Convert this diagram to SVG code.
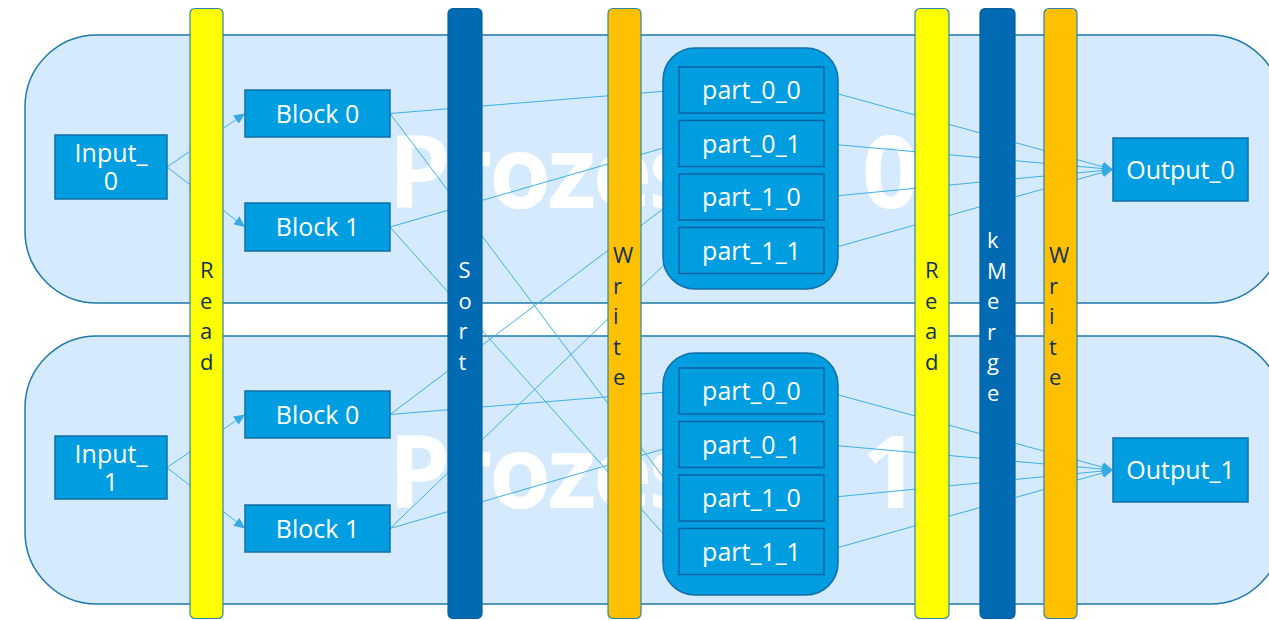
<svg xmlns="http://www.w3.org/2000/svg" width="1269" height="620" viewBox="0 0 1269 620">
<defs>
<marker id="arr" markerUnits="userSpaceOnUse" markerWidth="12" markerHeight="10" refX="11" refY="5" orient="auto">
<path d="M0,0 L11,5 L0,10 Z" fill="#35abe3"/>
</marker>
<style>
.proc{fill:#d5eafc;stroke:#1f79ad;stroke-width:1.5}
.wm{font-family:"Open Sans","Noto Sans",sans-serif;font-weight:bold;font-size:100px;fill:#ffffff;letter-spacing:-3.5px}
.node{fill:#009ee0;stroke:#136fa6;stroke-width:1.5}
.cont{fill:#009ee0;stroke:#136fa6;stroke-width:1.5}
.part{fill:#009ee0;stroke:#0b62a0;stroke-width:1.5}
.lbl{font-family:"Open Sans","Noto Sans",sans-serif;font-size:25px;fill:#ffffff;text-anchor:middle}
.conn{fill:none;stroke:#3db1e8;stroke-width:1}
.yel{fill:#ffff00;stroke:#2a86a8;stroke-width:1.2}
.ora{fill:#ffc000;stroke:#2a86a8;stroke-width:1.2}
.dbl{fill:#006ab2;stroke:#0d5f99;stroke-width:1.2}
.bt{font-family:"Open Sans","Noto Sans",sans-serif;font-size:22px;fill:#12305c}
.bw{font-family:"Open Sans","Noto Sans",sans-serif;font-size:22px;fill:#ffffff}
</style>
</defs>

<g id="process0">
<rect class="proc" x="25" y="35" width="1257" height="268" rx="72" ry="72"/>
<text class="wm" y="207.5"><tspan x="388">Prozess </tspan><tspan x="862">0</tspan></text>
</g>
<g id="process1">
<rect class="proc" x="25" y="336" width="1257" height="268" rx="72" ry="72"/>
<text class="wm" y="508"><tspan x="388">Prozess </tspan><tspan x="862">1</tspan></text>
</g>

<g id="connectors">
<line class="conn" x1="167" y1="167" x2="245" y2="113.5" marker-end="url(#arr)"/>
<line class="conn" x1="167" y1="167" x2="245" y2="227" marker-end="url(#arr)"/>
<line class="conn" x1="167" y1="467.5" x2="245" y2="414.5" marker-end="url(#arr)"/>
<line class="conn" x1="167" y1="467.5" x2="245" y2="528.5" marker-end="url(#arr)"/>

<line class="conn" x1="390" y1="113.5" x2="679" y2="90"/>
<line class="conn" x1="390" y1="113.5" x2="679" y2="498"/>
<line class="conn" x1="390" y1="227" x2="679" y2="143.5"/>
<line class="conn" x1="390" y1="227" x2="679" y2="551.5"/>
<line class="conn" x1="390" y1="414.5" x2="679" y2="391"/>
<line class="conn" x1="390" y1="414.5" x2="679" y2="197"/>
<line class="conn" x1="390" y1="528.5" x2="679" y2="444.5"/>
<line class="conn" x1="390" y1="528.5" x2="679" y2="250.5"/>

<line class="conn" x1="824" y1="90" x2="1113" y2="169.5" marker-end="url(#arr)"/>
<line class="conn" x1="824" y1="143.5" x2="1113" y2="169.5" marker-end="url(#arr)"/>
<line class="conn" x1="824" y1="197" x2="1113" y2="169.5" marker-end="url(#arr)"/>
<line class="conn" x1="824" y1="250.5" x2="1113" y2="169.5" marker-end="url(#arr)"/>
<line class="conn" x1="824" y1="391" x2="1113" y2="470" marker-end="url(#arr)"/>
<line class="conn" x1="824" y1="444.5" x2="1113" y2="470" marker-end="url(#arr)"/>
<line class="conn" x1="824" y1="498" x2="1113" y2="470" marker-end="url(#arr)"/>
<line class="conn" x1="824" y1="551.5" x2="1113" y2="470" marker-end="url(#arr)"/>
</g>

<g id="input0">
<rect class="node" x="55" y="135" width="112" height="64"/>
<text class="lbl" x="111" y="162">Input_</text>
<text class="lbl" x="111" y="190">0</text>
</g>
<g id="input1">
<rect class="node" x="55" y="436" width="112" height="63"/>
<text class="lbl" x="111" y="463">Input_</text>
<text class="lbl" x="111" y="491">1</text>
</g>

<g id="p0-block0">
<rect class="node" x="245" y="90" width="145" height="47"/>
<text class="lbl" x="317.5" y="122.5">Block 0</text>
</g>
<g id="p0-block1">
<rect class="node" x="245" y="203" width="145" height="48"/>
<text class="lbl" x="317.5" y="236">Block 1</text>
</g>
<g id="p1-block0">
<rect class="node" x="245" y="391" width="145" height="47"/>
<text class="lbl" x="317.5" y="423.5">Block 0</text>
</g>
<g id="p1-block1">
<rect class="node" x="245" y="505" width="145" height="47"/>
<text class="lbl" x="317.5" y="537.5">Block 1</text>
</g>

<g id="parts0">
<rect class="cont" x="663" y="48" width="175" height="241" rx="32" ry="32"/>
<g id="p0-part_0_0"><rect class="part" x="679" y="67" width="145" height="46"/><text class="lbl" x="751.5" y="99">part_0_0</text></g>
<g id="p0-part_0_1"><rect class="part" x="679" y="120.5" width="145" height="46"/><text class="lbl" x="751.5" y="152.5">part_0_1</text></g>
<g id="p0-part_1_0"><rect class="part" x="679" y="174" width="145" height="46"/><text class="lbl" x="751.5" y="206">part_1_0</text></g>
<g id="p0-part_1_1"><rect class="part" x="679" y="227.5" width="145" height="46"/><text class="lbl" x="751.5" y="259.5">part_1_1</text></g>
</g>
<g id="parts1">
<rect class="cont" x="663" y="353" width="175" height="242" rx="32" ry="32"/>
<g id="p1-part_0_0"><rect class="part" x="679" y="368" width="145" height="46"/><text class="lbl" x="751.5" y="400">part_0_0</text></g>
<g id="p1-part_0_1"><rect class="part" x="679" y="421.5" width="145" height="46"/><text class="lbl" x="751.5" y="453.5">part_0_1</text></g>
<g id="p1-part_1_0"><rect class="part" x="679" y="475" width="145" height="46"/><text class="lbl" x="751.5" y="507">part_1_0</text></g>
<g id="p1-part_1_1"><rect class="part" x="679" y="528.5" width="145" height="46"/><text class="lbl" x="751.5" y="560.5">part_1_1</text></g>
</g>

<g id="output0">
<rect class="node" x="1113" y="138" width="135" height="63"/>
<text class="lbl" x="1180.5" y="178.5">Output_0</text>
</g>
<g id="output1">
<rect class="node" x="1113" y="438" width="135" height="64"/>
<text class="lbl" x="1180.5" y="479">Output_1</text>
</g>

<g id="bar-read1">
<rect class="yel" x="190" y="8.5" width="33" height="610" rx="5" ry="5"/>
<text class="bt"><tspan x="200" y="278">R</tspan><tspan x="200" y="308.5">e</tspan><tspan x="200" y="339">a</tspan><tspan x="200" y="369.5">d</tspan></text>
</g>
<g id="bar-sort">
<rect class="dbl" x="448" y="8.5" width="34" height="610" rx="5" ry="5"/>
<text class="bw"><tspan x="458.5" y="278">S</tspan><tspan x="458.5" y="308.5">o</tspan><tspan x="458.5" y="339">r</tspan><tspan x="458.5" y="369.5">t</tspan></text>
</g>
<g id="bar-write1">
<rect class="ora" x="608" y="8.5" width="33" height="610" rx="5" ry="5"/>
<text class="bt"><tspan x="613" y="263">W</tspan><tspan x="613" y="293.5">r</tspan><tspan x="613" y="324">i</tspan><tspan x="613" y="354.5">t</tspan><tspan x="613" y="385">e</tspan></text>
</g>
<g id="bar-read2">
<rect class="yel" x="915" y="8.5" width="34" height="610" rx="5" ry="5"/>
<text class="bt"><tspan x="925" y="278">R</tspan><tspan x="925" y="308.5">e</tspan><tspan x="925" y="339">a</tspan><tspan x="925" y="369.5">d</tspan></text>
</g>
<g id="bar-kmerge">
<rect class="dbl" x="980" y="8.5" width="35" height="610" rx="5" ry="5"/>
<text class="bw"><tspan x="987" y="248">k</tspan><tspan x="987" y="278.5">M</tspan><tspan x="987" y="309">e</tspan><tspan x="987" y="339.5">r</tspan><tspan x="987" y="370">g</tspan><tspan x="987" y="400.5">e</tspan></text>
</g>
<g id="bar-write2">
<rect class="ora" x="1044" y="8.5" width="33" height="610" rx="5" ry="5"/>
<text class="bt"><tspan x="1049" y="263">W</tspan><tspan x="1049" y="293.5">r</tspan><tspan x="1049" y="324">i</tspan><tspan x="1049" y="354.5">t</tspan><tspan x="1049" y="385">e</tspan></text>
</g>
</svg>
